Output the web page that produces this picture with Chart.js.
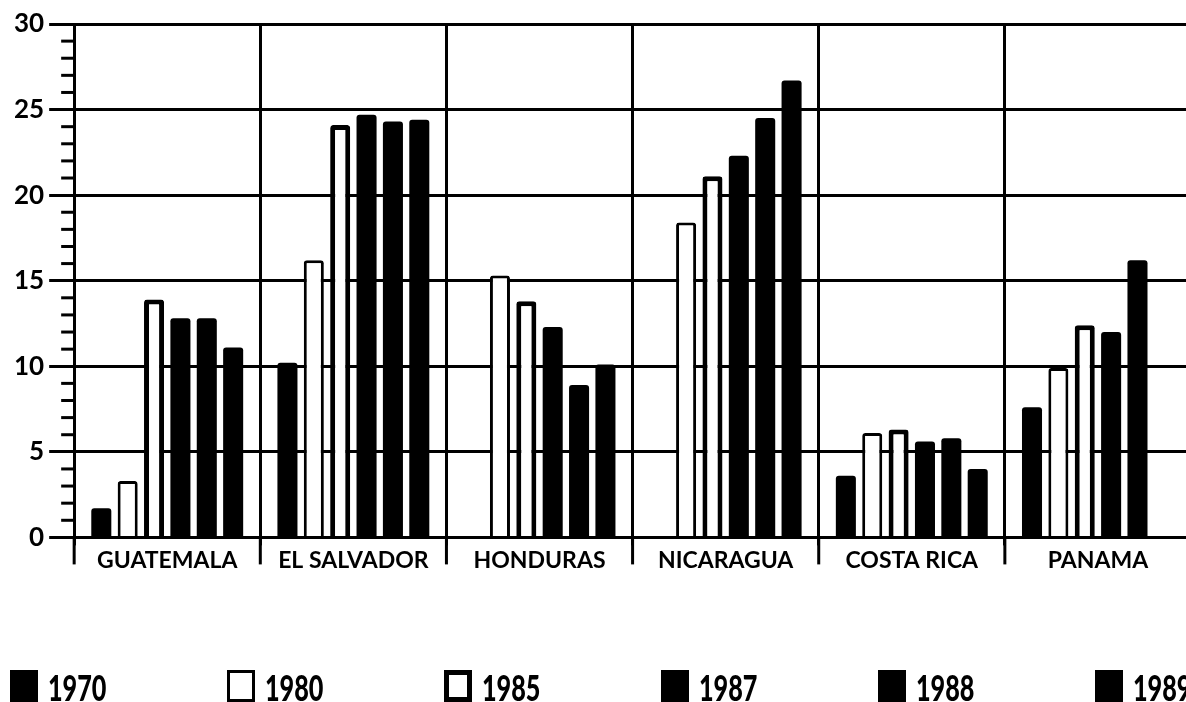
<!DOCTYPE html>
<html>
<head>
<meta charset="utf-8">
<script src="https://cdn.jsdelivr.net/npm/chart.js@4"></script>
<style>
  html, body { margin: 0; padding: 0; background: #fff; overflow: hidden; }
  #wrap { position: absolute; left: 0; top: 0; width: 1200px; height: 702px; }
</style>
</head>
<body>
<div id="wrap"><canvas id="c"></canvas></div>
<script>
const categories = ['GUATEMALA', 'EL SALVADOR', 'HONDURAS', 'NICARAGUA', 'COSTA RICA', 'PANAMA'];
const years = ['1970', '1980', '1985', '1987', '1988', '1989'];
const v1970 = [1.7, 10.2, null, null, 3.6, 7.6];
const v1980 = [3.3, 16.2, 15.3, 18.4, 6.1, 9.9];
const v1985 = [13.9, 24.1, 13.8, 21.1, 6.3, 12.4];
const v1987 = [12.8, 24.7, 12.3, 22.3, 5.6, 12.0];
const v1988 = [12.8, 24.3, 8.9, 24.5, 5.8, 16.2];
const v1989 = [11.1, 24.4, 10.1, 26.7, 4.0, null];
const yTicks = [0, 5, 10, 15, 20, 25, 30];

const seriesValues = [v1970, v1980, v1985, v1987, v1988, v1989];
const styles = [
  { bg: '#000', border: '#000', bw: 0 },
  { bg: '#fff', border: '#000', bw: 3 },
  { bg: '#fff', border: '#000', bw: 5 },
  { bg: '#000', border: '#000', bw: 0 },
  { bg: '#000', border: '#000', bw: 0 },
  { bg: '#000', border: '#000', bw: 0 }
];

const datasets = years.map((y, i) => ({
  label: y,
  data: seriesValues[i],
  backgroundColor: styles[i].bg,
  borderColor: styles[i].border,
  borderWidth: styles[i].bw,
  borderSkipped: 'bottom',
  borderRadius: 3,
  categoryPercentage: 0.85,
  barPercentage: 0.76
}));

const extraTicks = {
  id: 'extraTicks',
  afterDraw(chart) {
    const ys = chart.scales.y;
    const xs = chart.scales.x;
    const area = chart.chartArea;
    const ctx = chart.ctx;
    ctx.save();
    ctx.strokeStyle = '#000';
    ctx.lineWidth = 3;
    // minor y ticks
    for (let v = ys.min; v <= ys.max; v++) {
      if (v % 5 === 0) continue;
      const py = ys.getPixelForValue(v);
      ctx.beginPath();
      ctx.moveTo(area.left - 13, py);
      ctx.lineTo(area.left, py);
      ctx.stroke();
    }
    // category boundary ticks below the axis
    const n = chart.data.labels.length;
    const half = (xs.getPixelForValue(1) - xs.getPixelForValue(0)) / 2;
    for (let i = 0; i <= n; i++) {
      const px = xs.getPixelForValue(i) - half;
      ctx.beginPath();
      ctx.moveTo(px, area.bottom);
      ctx.lineTo(px, area.bottom + 27);
      ctx.stroke();
    }
    ctx.restore();
  }
};

const customLegend = {
  id: 'customLegend',
  afterDraw(chart) {
    const ctx = chart.ctx;
    const H = chart.height;
    ctx.save();
    chart.data.datasets.forEach((ds, i) => {
      const x = 10 + i * 217;
      const bw = 28, bh = 32;
      const top = H - bh;
      ctx.fillStyle = ds.borderColor;
      ctx.fillRect(x, top, bw, bh + 2);
      if (ds.borderWidth > 0) {
        const b = ds.borderWidth;
        ctx.fillStyle = ds.backgroundColor;
        ctx.fillRect(x + b, top + b, bw - 2 * b, bh - 2 * b);
      }
      ctx.save();
      ctx.translate(x + bw + 10, H - 1);
      ctx.scale(0.7, 1);
      ctx.fillStyle = '#000';
      ctx.font = '900 36px Lato';
      ctx.textBaseline = 'alphabetic';
      ctx.fillText(ds.label, 0, 0);
      ctx.restore();
    });
    ctx.restore();
  }
};

new Chart(document.getElementById('c'), {
  type: 'bar',
  data: { labels: categories, datasets },
  options: {
    responsive: true,
    maintainAspectRatio: false,
    animation: false,
    layout: { padding: { left: 9, right: 9, top: 24, bottom: 127 } },
    plugins: { legend: { display: false }, tooltip: { enabled: false } },
    scales: {
      x: {
        grid: { offset: true, color: '#000', lineWidth: 3, tickLength: 8, tickWidth: 3, tickColor: '#000' },
        border: { display: true, color: '#000', width: 3 },
        ticks: { color: '#000', padding: 1, font: { family: 'Lato', size: 23, weight: '700' }, maxRotation: 0, autoSkip: false }
      },
      y: {
        min: 0, max: 30,
        afterBuildTicks(scale) { scale.ticks = yTicks.map(v => ({ value: v })); },
        grid: { color: '#000', lineWidth: 3, tickLength: 25, tickWidth: 3, tickColor: '#000' },
        border: { display: true, color: '#000', width: 3 },
        ticks: { color: '#000', padding: 5, font: { family: 'Lato', size: 26, weight: '700' } }
      }
    }
  },
  plugins: [extraTicks, customLegend]
});
</script>
</body>
</html>
